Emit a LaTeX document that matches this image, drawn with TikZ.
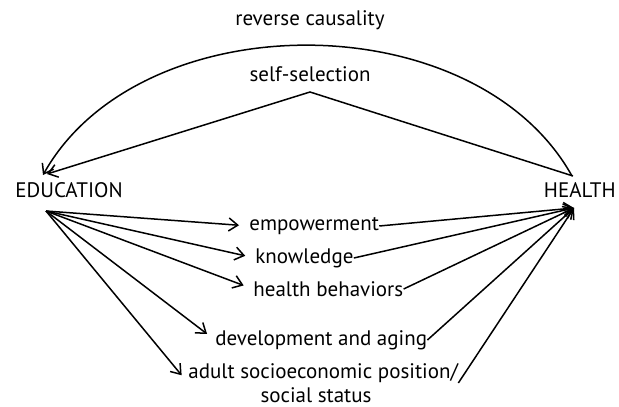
\documentclass[tikz,border=0pt]{standalone}
\usepackage{fontspec}
\setmainfont{PT Sans}
\usetikzlibrary{arrows.meta, positioning, calc}

\begin{document}
\begin{tikzpicture}[x=0.5pt,y=-0.5pt,
  lbl/.style={inner sep=0pt,font=\fontsize{10.5}{12}\selectfont},
  conn/.style={line width=0.75pt,-{Straight Barb[length=4.5pt,width=6.5pt]}},
  fanarr/.style={conn,shorten >=5pt}]
  \useasboundingbox (0,0) rectangle (619,406);
  % end nodes
  \node[lbl] (edu) at (69,190) {EDUCATION};
  \node[lbl,anchor=east] (health) at (616,190) {HEALTH};
  \node[lbl] (rev) at (310,20) {reverse causality};
  \node[lbl] (sel) at (310,74) {self-selection};
  % pathway labels
  \node[lbl,anchor=west] (emp) at (249,226) {empowerment};
  \node[lbl,anchor=west] (know) at (255,258) {knowledge};
  \node[lbl,anchor=west] (behav) at (253,289) {health behaviors};
  \node[lbl,anchor=west] (devel) at (215,340) {development and aging};
  \node[lbl,anchor=west] (adult) at (188,373) {adult socioeconomic position/};
  \node[lbl] (status) at (316,395) {social status};
  % meeting points
  \coordinate (apex) at (310,92);
  \coordinate (fan) at (46,211);
  \coordinate (hin) at (574,208);
  \coordinate (eduarc) at (43,175);
  \coordinate (edusel) at (47,174);
  \coordinate (healtharc) at (572,176);
  \coordinate (healthsel) at (573,176);
  % reverse causality and self-selection
  \draw[conn] (healtharc) .. controls (475,2) and (140,2) .. (eduarc);
  \draw[conn,{Straight Barb[length=4.5pt,width=6.5pt]}-] (edusel) -- (apex) -- (healthsel);
  % education to pathways
  \foreach \p in {emp,know,behav,devel}
    \draw[fanarr] (fan) -- (\p.west);
  \draw[fanarr] (fan) -- (adult.south west);
  % pathways to health
  \foreach \p in {emp,know,behav,devel}
    \draw[conn] (\p.east) -- (hin);
  \draw[conn] (adult.south east) -- (hin);
\end{tikzpicture}
\end{document}
